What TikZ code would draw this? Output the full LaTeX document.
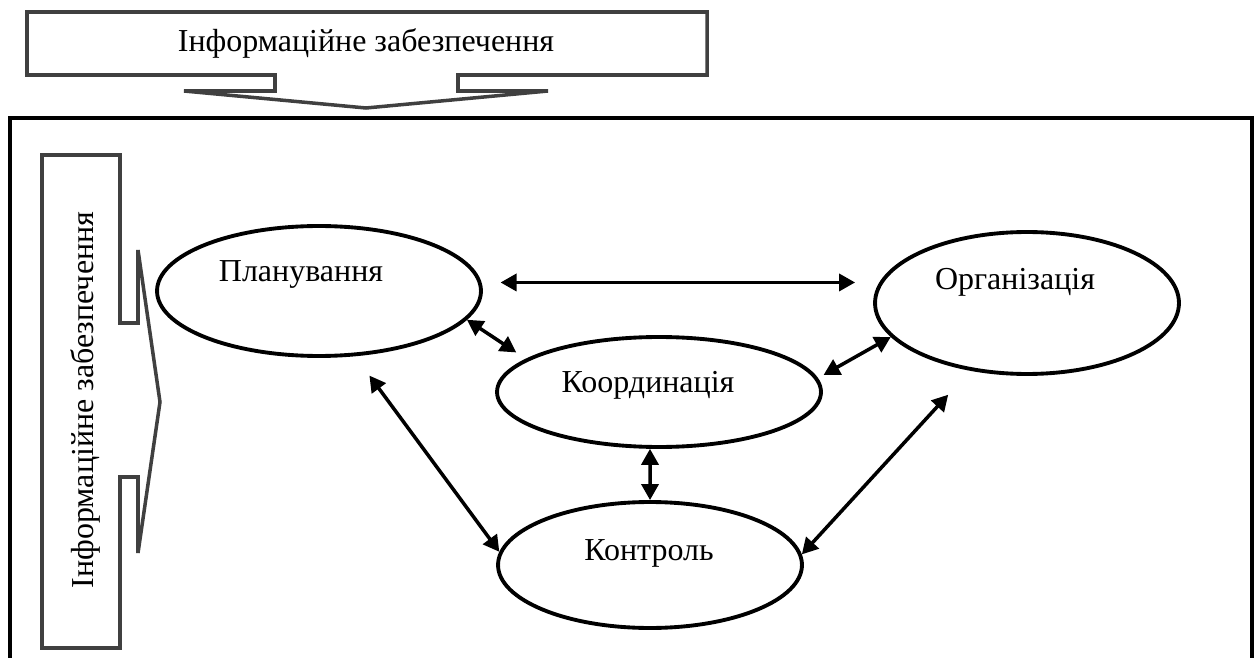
\documentclass[tikz,border=0pt]{standalone}
\usepackage{fontspec}
\setmainfont{Liberation Serif}
\usepackage{tikz}
\usetikzlibrary{positioning,calc,shapes.geometric,arrows.meta}

\begin{document}
\begin{tikzpicture}[
	x=0.02cm, y=-0.02cm,
	% Еліпс етапу
	stage/.style={
		ellipse, draw=black, line width=2.2pt,
		inner sep=0pt
	},
	% Двостороння стрілка між етапами
	link_arrow/.style={
		<->, >={Triangle[length=0.32cm, width=0.34cm]}, black, line width=2pt
	},
	% Сіра фігурна стрілка
	info_arrow/.style={
		draw=black!75, line width=2pt, line join=miter
	},
	% Підпис
	caption_text/.style={
		font=\fontsize{18.2}{22}\selectfont, anchor=base, inner sep=0pt
	},
	% Рамка
	frame_line/.style={
		draw=black, line width=2.4pt
	}
	]
	
	\useasboundingbox (0,0) rectangle (1257,658);
	
	% --- Верхня стрілка ---
	\path[info_arrow] (27,12) -- (707,12) -- (707,75) -- (458,75) -- (458,91)
		-- (548,91) -- (366,108) -- (184,91) -- (275,91) -- (275,75)
		-- (27,75) -- cycle;
	\node[caption_text] (topT) at (366,52) {Інформаційне забезпечення};
	
	% --- Рамка ---
	\draw[frame_line] (10,670) -- (10,118) -- (1252,118) -- (1252,670);
	
	% --- Ліва стрілка ---
	\path[info_arrow] (42,155) -- (120,155) -- (120,323) -- (138,323) -- (138,250)
		-- (160,402) -- (138,553) -- (138,477) -- (120,477) -- (120,648)
		-- (42,648) -- cycle;
	\node[caption_text, rotate=90] (leftT) at (93,400) {Інформаційне забезпечення};
	
	% --- Етапи ---
	\node[stage, minimum width=6.48cm, minimum height=2.6cm] (plan) at (319,291) {};
	\node[stage, minimum width=6.48cm, minimum height=2.2cm] (coord) at (659,392) {};
	\node[stage, minimum width=6.08cm, minimum height=2.52cm] (ctrl) at (650,565) {};
	\node[stage, minimum width=6.08cm, minimum height=2.84cm] (org) at (1027,303) {};
	
	\node[caption_text] (planT) at (301,282) {Планування};
	\node[caption_text] (coordT) at (648,392) {Координація};
	\node[caption_text] (ctrlT) at (649,560) {Контроль};
	\node[caption_text] (orgT) at (1015,290) {Організація};
	
	% --- Зв'язки ---
	\draw[link_arrow, shorten <=0.38cm, shorten >=0.36cm] (plan.3) -- (org.west |- plan.3);
	\draw[link_arrow, shorten >=0.23cm] (plan.-11.4) -- (coord.166.4);
	\draw[link_arrow, shorten <=0.13cm] (coord.5.9) -- (org.194.2);
	\draw[link_arrow] (coord.-99) -- (ctrl.north);
	\draw[link_arrow, shorten <=0.48cm] (plan.-61.9) -- (ctrl.175.9);
	\draw[link_arrow, shorten <=0.65cm] (org.230.4) -- (ctrl.4.5);
	
\end{tikzpicture}
\end{document}
